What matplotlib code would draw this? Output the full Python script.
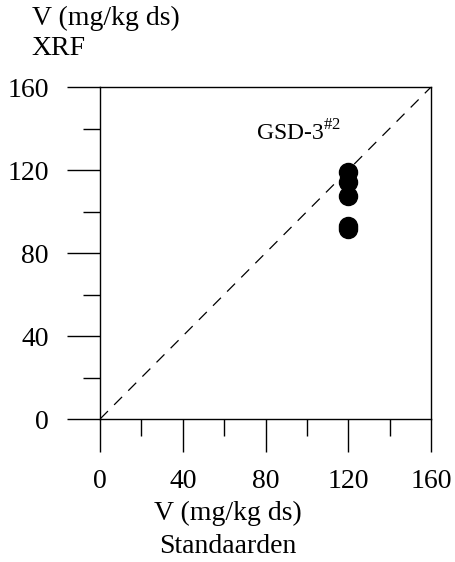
import matplotlib as mpl
import matplotlib.pyplot as plt
import numpy as np

mpl.rcParams['font.family'] = 'Liberation Serif'
mpl.rcParams['font.size'] = 20
mpl.rcParams['mathtext.fontset'] = 'custom'
mpl.rcParams['mathtext.rm'] = 'Liberation Serif'

# GSD-3 #2 measurements: certified value vs XRF result
standard = [120, 120, 120, 120, 120]
xrf = [119, 114, 107.5, 93, 91.5]
ticks = [0, 40, 80, 120, 160]
minor_ticks = [20, 60, 100, 140]

fig = plt.figure(figsize=(4.55, 5.62), dpi=100)
ax = fig.add_axes([0.2198, 0.2544, 0.7275, 0.5907])

ax.plot([0, 160], [0, 160], color='black', lw=0.9, ls=(0, (9, 7)))
ax.plot(standard, xrf, 'o', color='black', markersize=13, zorder=3)

ax.set_xlim(0, 160)
ax.set_ylim(0, 160)
ax.set_xticks(ticks)
ax.set_yticks(ticks)
ax.set_xticks(minor_ticks, minor=True)
ax.set_yticks(minor_ticks, minor=True)
ax.tick_params(which='major', length=24, width=1, direction='out')
ax.tick_params(which='minor', length=12, width=1, direction='out')
ax.tick_params(axis='x', which='major', pad=12)
ax.tick_params(axis='y', which='major', pad=13)
for s in ax.spines.values():
    s.set_linewidth(1)

ax.text(75.5, 134, 'GSD-3$^{\\mathrm{\\#2}}$', fontsize=17, va='baseline')

fig.text(0.07, 0.968, 'V (mg/kg ds)', ha='left', va='center')
fig.text(0.07, 0.913, 'XRF', ha='left', va='center')
fig.text(0.5, 0.086, 'V (mg/kg ds)', ha='center', va='center')
fig.text(0.5, 0.027, 'Standaarden', ha='center', va='center')

plt.savefig('out.png', dpi=100)
